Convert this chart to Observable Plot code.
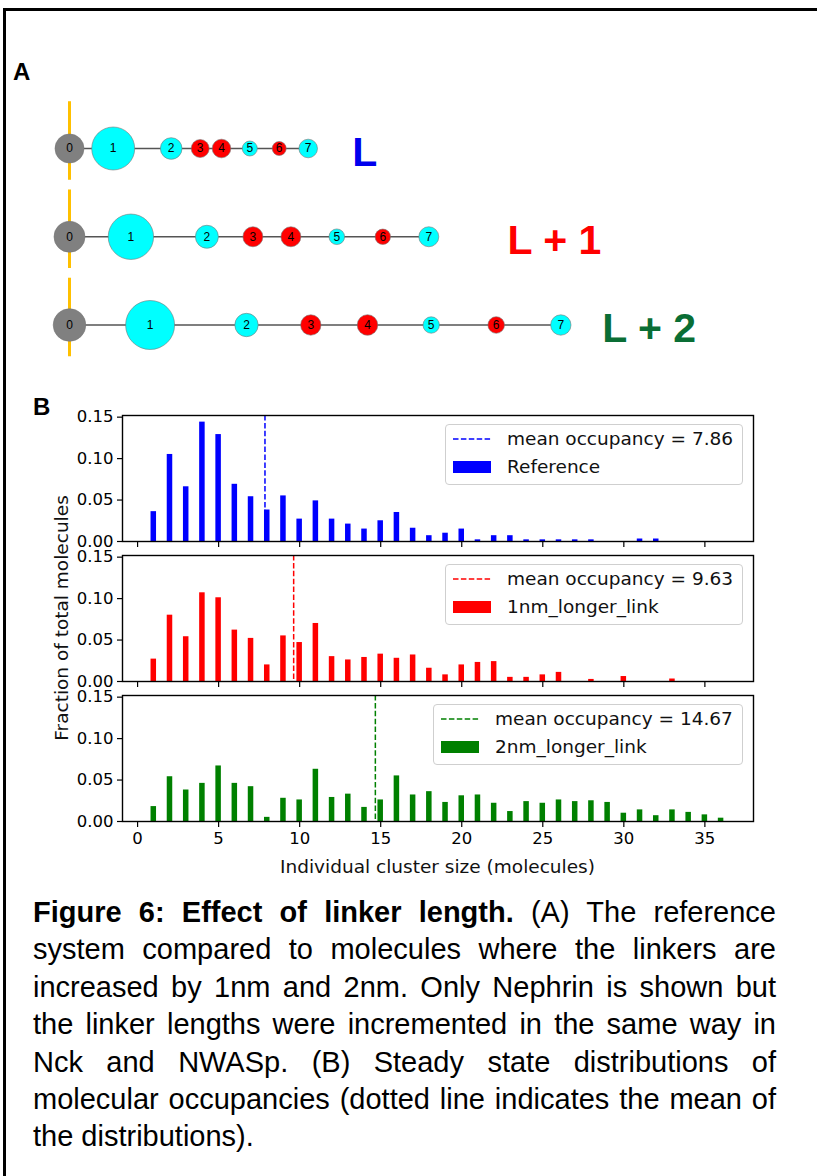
<!DOCTYPE html>
<html><head><meta charset="utf-8">
<script src="https://cdn.jsdelivr.net/npm/d3@7"></script>
<script src="https://cdn.jsdelivr.net/npm/@observablehq/plot@0.6"></script>
<style>
body{margin:0;width:817px;height:1176px;overflow:hidden;position:relative;background:#fff;font-family:"DejaVu Sans",sans-serif;}
.abs{position:absolute;}
.frame{position:absolute;left:3px;top:8px;width:900px;height:1300px;border:3px solid #000;box-sizing:border-box;}
.cap{position:absolute;left:33px;top:894px;width:743px;font-family:"Liberation Sans",Arial,sans-serif;font-size:29px;line-height:37.4px;color:#000;}
.cap div{text-align:justify;text-align-last:justify;}
.cap div.last{text-align-last:left;}
.panel{position:absolute;font-family:"Liberation Sans",Arial,sans-serif;font-weight:bold;font-size:24px;line-height:24px;color:#000;}
.leg{position:absolute;border:1px solid #cfcfcf;border-radius:4px;background:rgba(255,255,255,0.8);box-sizing:border-box;}
.legtxt{position:absolute;font-family:"DejaVu Sans",sans-serif;font-size:18.5px;line-height:22px;color:#111;white-space:nowrap;}
.axlab{position:absolute;font-family:"DejaVu Sans",sans-serif;font-size:18.5px;line-height:22px;color:#111;white-space:nowrap;}
</style></head><body>
<div class="frame"></div>
<div class="panel" style="left:13px;top:60px">A</div>
<div class="panel" style="left:33px;top:395px">B</div>
<script>
// ---------- Panel A: Nephrin schematic ----------
const rowLabels = ["L", "L + 1", "L + 2"];
const rowLabelColors = ["#0000ee", "#ff0000", "#0a6e35"];
const siteNames = ["0", "1", "2", "3", "4", "5", "6", "7"];
const siteColors = ["#808080", "#00ffff", "#00ffff", "#ff0000", "#ff0000", "#00ffff", "#ff0000", "#00ffff"];
// position of each site along the molecule (a.u., membrane = 0)
const posL  = [0, 43.7, 101.7, 130.7, 152.0, 180.3, 209.7, 238.7];
const posL1 = [0, 61.4, 137.4, 183.4, 221.4, 267.3, 313.3, 359.3];
const posL2 = [0, 80.6, 177.0, 241.3, 298.0, 361.7, 426.7, 491.3];
// site radius (a.u.)
const radL  = [14.5, 21.5, 10.8, 9.0, 9.3, 7.5, 7.0, 9.3];
const radL1 = [15.5, 22.7, 11.5, 10.0, 10.0, 7.8, 7.7, 10.0];
const radL2 = [16.3, 24.5, 11.7, 10.2, 10.3, 8.2, 8.3, 10.2];
const labelPos = [282.7, 438.0, 532.7];

const allPos = [posL, posL1, posL2];
const allRad = [radL, radL1, radL2];
const rows = rowLabels.map((label, i) => ({row: i, label, color: rowLabelColors[i], end: allPos[i][allPos[i].length - 1], labelPos: labelPos[i]}));
const nodes = [];
allPos.forEach((pos, i) => pos.forEach((p, j) => nodes.push({row: i, pos: p, r: allRad[i][j], fill: siteColors[j], site: siteNames[j]})));

const schematic = Plot.plot({
  width: 817, height: 380, margin: 0,
  x: {domain: [0, 748], range: [69, 817], axis: null},
  y: {domain: [0, 2], range: [148, 324.5], axis: null},
  r: {type: "identity"},
  style: {fontFamily: "Liberation Sans, Arial, sans-serif", background: "transparent", overflow: "visible"},
  marks: [
    Plot.ruleX(rows, {x: 0, y1: d => d.row - 0.53, y2: d => d.row + 0.36, stroke: "#ffc000", strokeWidth: 3}),
    Plot.ruleY(rows, {y: "row", x1: 0, x2: "end", stroke: "#555", strokeWidth: 1.4}),
    Plot.dot(nodes, {x: "pos", y: "row", r: "r", fill: "fill", stroke: "#777", strokeWidth: 0.6}),
    Plot.text(nodes, {x: "pos", y: "row", text: "site", fontSize: 12, fill: "#000"}),
    Plot.text(rows, {x: "labelPos", y: "row", text: "label", fill: "color", fontSize: 41, fontWeight: "bold", textAnchor: "start", dy: 4})
  ]
});
schematic.style.position = "absolute"; schematic.style.left = "0px"; schematic.style.top = "0px";
document.body.appendChild(schematic);

// ---------- Panel B: histograms ----------
const clusterSizes = [1,2,3,4,5,6,7,8,9,10,11,12,13,14,15,16,17,18,19,20,21,22,23,24,25,26,27,28,29,30,31,32,33,34,35,36];
const referenceFrac = [0.036,0.105,0.066,0.144,0.129,0.069,0.054,0.038,0.055,0.027,0.049,0.027,0.021,0.015,0.025,0.035,0.016,0.007,0.010,0.015,0.002,0.007,0.007,0.002,0.002,0.002,0.002,0.002,0,0,0.003,0.003,0,0,0,0];
const longer1Frac = [0.027,0.080,0.054,0.107,0.101,0.062,0.052,0.020,0.055,0.047,0.070,0.030,0.026,0.029,0.033,0.028,0.032,0.016,0.008,0.020,0.023,0.024,0.005,0.005,0.008,0.011,0,0.0025,0,0.006,0,0,0.003,0,0,0];
const longer2Frac = [0.018,0.054,0.038,0.046,0.067,0.046,0.042,0.005,0.028,0.026,0.063,0.029,0.033,0.017,0.026,0.055,0.032,0.036,0.023,0.031,0.032,0.022,0.012,0.024,0.022,0.026,0.024,0.025,0.023,0.010,0.014,0.007,0.014,0.011,0.008,0.004];
const seriesNames = ["Reference", "1nm_longer_link", "2nm_longer_link"];
const seriesColors = ["#0000ff", "#ff0000", "#008000"];
const meanOccupancy = [7.86, 9.63, 14.67];
const xTicks = [0, 5, 10, 15, 20, 25, 30, 35];
const yTicks = [0, 0.05, 0.10, 0.15];

const frameTops = [415, 555, 695];
const legendLefts = [445, 445, 433];
const FH = 126;

function hist(values, color, mean, frameTop, showLabels) {
  const data = clusterSizes.map((s, i) => ({size: s, frac: values[i]})).filter(d => d.frac > 0);
  const mt = 2, mb = showLabels ? 32 : 10;
  const p = Plot.plot({
    width: 817, height: FH + mt + mb,
    marginTop: mt, marginBottom: mb, marginLeft: 122, marginRight: 64,
    x: {domain: [-0.93, 38]},
    y: {domain: [0, 0.152]},
    style: {fontFamily: "DejaVu Sans, sans-serif", fontSize: "16.5px", color: "#000", background: "transparent", overflow: "visible"},
    marks: [
      Plot.rect(data, {x1: d => d.size - 0.17, x2: d => d.size + 0.17, y1: 0, y2: "frac", fill: color}),
      Plot.ruleX([mean], {stroke: color, strokeWidth: 1.5, strokeDasharray: "5.5,2.4"}),
      Plot.frame({stroke: "#000", strokeWidth: 1.4}),
      Plot.axisY({ticks: yTicks, tickFormat: d3.format(".2f"), tickSize: 5, tickPadding: 4, label: null, fontSize: 16.5, strokeWidth: 1.2}),
      Plot.axisX({ticks: xTicks, tickSize: 6, tickPadding: 5, label: null, fontSize: 16.5, strokeWidth: 1.2,
        tickFormat: showLabels ? (d => String(d)) : (() => "")})
    ]
  });
  p.style.position = "absolute"; p.style.left = "0px"; p.style.top = (frameTop - mt) + "px";
  document.body.appendChild(p);
}

function legend(frameTop, boxLeft, color, meanVal, name) {
  const box = document.createElement("div");
  box.className = "leg";
  box.style.left = boxLeft + "px"; box.style.top = (frameTop + 9) + "px";
  box.style.width = (743 - boxLeft) + "px"; box.style.height = "61px";
  document.body.appendChild(box);
  const ns = "http://www.w3.org/2000/svg";
  const s = document.createElementNS(ns, "svg");
  s.setAttribute("width", 40); s.setAttribute("height", 4);
  s.style.position = "absolute"; s.style.left = (boxLeft + 8) + "px"; s.style.top = (frameTop + 22.3) + "px";
  const ln = document.createElementNS(ns, "line");
  ln.setAttribute("x1", 0); ln.setAttribute("x2", 37.5); ln.setAttribute("y1", 2); ln.setAttribute("y2", 2);
  ln.setAttribute("stroke", color); ln.setAttribute("stroke-width", 1.5); ln.setAttribute("stroke-dasharray", "5.5,2.4");
  s.appendChild(ln);
  document.body.appendChild(s);
  const r = document.createElement("div");
  r.className = "abs";
  r.style.left = (boxLeft + 8) + "px"; r.style.top = (frameTop + 46) + "px";
  r.style.width = "37.5px"; r.style.height = "12.3px"; r.style.background = color;
  document.body.appendChild(r);
  const t1 = document.createElement("div");
  t1.className = "legtxt"; t1.style.left = (boxLeft + 62) + "px"; t1.style.top = (frameTop + 13) + "px";
  t1.textContent = "mean occupancy = " + meanVal.toFixed(2);
  document.body.appendChild(t1);
  const t2 = document.createElement("div");
  t2.className = "legtxt"; t2.style.left = (boxLeft + 62) + "px"; t2.style.top = (frameTop + 41) + "px";
  t2.textContent = name;
  document.body.appendChild(t2);
}

const allFrac = [referenceFrac, longer1Frac, longer2Frac];
allFrac.forEach((v, i) => {
  hist(v, seriesColors[i], meanOccupancy[i], frameTops[i], i === 2);
  legend(frameTops[i], legendLefts[i], seriesColors[i], meanOccupancy[i], seriesNames[i]);
});

// axis labels
const yl = document.createElement("div");
yl.className = "axlab";
yl.style.left = "62px"; yl.style.top = "618px";
yl.style.transform = "translate(-50%,-50%) rotate(-90deg)";
yl.textContent = "Fraction of total molecules";
document.body.appendChild(yl);
const xl = document.createElement("div");
xl.className = "axlab";
xl.style.left = "437.5px"; xl.style.top = "855.5px";
xl.style.transform = "translateX(-50%)";
xl.textContent = "Individual cluster size (molecules)";
document.body.appendChild(xl);
</script>
<div class="cap">
<div><b>Figure 6: Effect of linker length.</b> (A) The reference</div>
<div>system compared to molecules where the linkers are</div>
<div>increased by 1nm and 2nm. Only Nephrin is shown but</div>
<div>the linker lengths were incremented in the same way in</div>
<div>Nck and NWASp. (B) Steady state distributions of</div>
<div>molecular occupancies (dotted line indicates the mean of</div>
<div class="last">the distributions).</div>
</div>
</body></html>
